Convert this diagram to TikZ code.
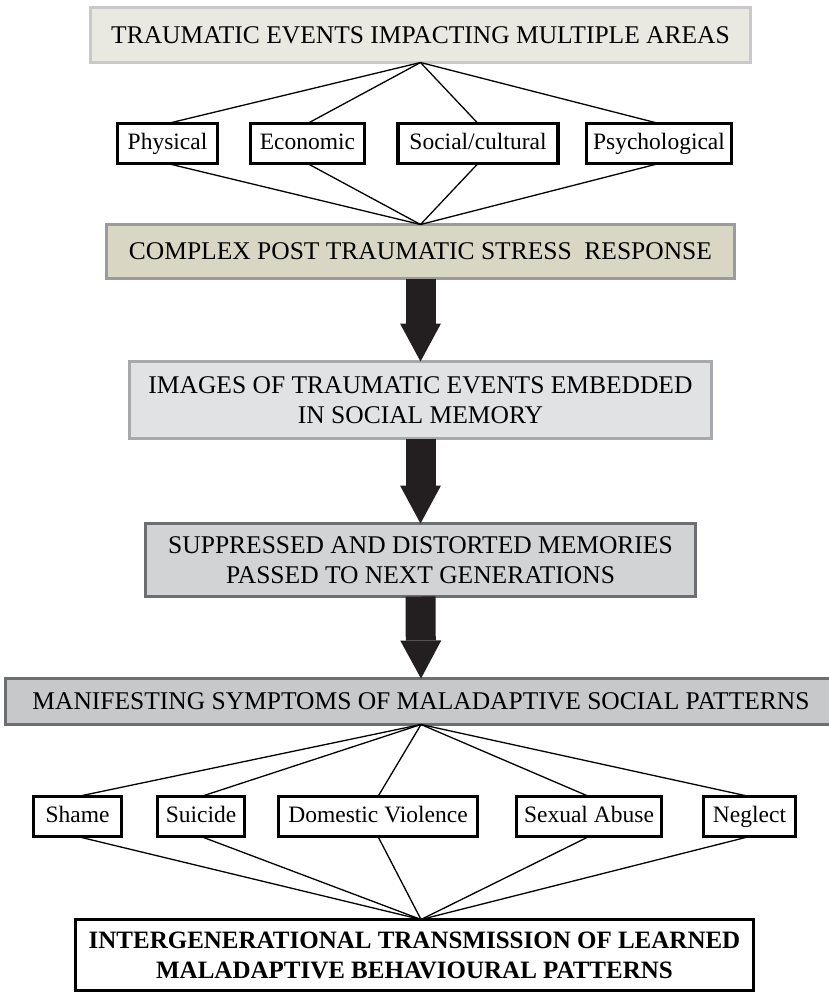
\documentclass[tikz,border=0pt]{standalone}
\usepackage{fontspec}
\setmainfont{Liberation Serif}
\usetikzlibrary{arrows.meta,calc}

\definecolor{topfill}{RGB}{233,233,225}
\definecolor{topline}{RGB}{201,201,201}
\definecolor{beige}{RGB}{217,215,196}
\definecolor{beigeline}{RGB}{155,155,155}
\definecolor{lightfill}{RGB}{225,226,228}
\definecolor{lightline}{RGB}{167,169,172}
\definecolor{midfill}{RGB}{209,211,212}
\definecolor{midline}{RGB}{109,110,113}
\definecolor{darkfill}{RGB}{199,200,202}
\definecolor{arrowc}{RGB}{35,31,32}

\begin{document}
\begin{tikzpicture}[x=1pt,y=-1pt,line width=1.3pt]
  \tikzset{every node/.style={inner sep=0pt,outer sep=0pt,align=center},
    head/.style={draw=#1,line width=3pt,font=\fontsize{25.5}{30}\selectfont},
    leaf/.style={draw=black,fill=white,line width=3.2pt,minimum height=40pt,
      text height=16pt,text depth=5pt,font=\fontsize{23.5}{26}\selectfont},
    bigarrow/.style={draw=arrowc,line width=30pt,
      -{Triangle[width=41pt,length=38pt,line width=0pt]}}}
  \useasboundingbox (0,0) rectangle (829,993);

  \node[head=topline,fill=topfill,minimum width=660pt,minimum height=55pt] (top) at (420.5,35) {TRAUMATIC EVENTS IMPACTING MULTIPLE AREAS};
  \node[leaf,minimum width=100pt] (phys) at (167.5,143.5) {Physical};
  \node[leaf,minimum width=114pt] (econ) at (307.5,143.5) {Economic};
  \node[leaf,minimum width=160pt] (soc)  at (478,143.5)   {Social/cultural};
  \node[leaf,minimum width=145pt] (psy)  at (659,143.5)   {Psychological};
  \node[head=beigeline,fill=beige,minimum width=628pt,minimum height=54pt] (cptsr) at (420.5,251.5) {COMPLEX POST TRAUMATIC STRESS\ \ RESPONSE};
  \node[head=lightline,fill=lightfill,minimum width=582pt,minimum height=77pt] (img) at (420.5,400) {IMAGES OF TRAUMATIC EVENTS EMBEDDED\\IN SOCIAL MEMORY};
  \node[head=midline,fill=midfill,minimum width=550pt,minimum height=73pt] (supp) at (420.5,560) {SUPPRESSED AND DISTORTED MEMORIES\\PASSED TO NEXT GENERATIONS};
  \node[head=midline,fill=darkfill,minimum width=832pt,minimum height=46pt] (mani) at (421,701.5) {MANIFESTING SYMPTOMS OF MALADAPTIVE SOCIAL PATTERNS};
  \node[leaf,minimum width=88pt]  (shame) at (77.5,816.5)  {Shame};
  \node[leaf,minimum width=87pt]  (suic)  at (201,816.5)   {Suicide};
  \node[leaf,minimum width=199pt] (dv)    at (378,816.5)   {Domestic Violence};
  \node[leaf,minimum width=145pt] (sex)   at (589,816.5)   {Sexual Abuse};
  \node[leaf,minimum width=92pt]  (negl)  at (749.5,816.5) {Neglect};
  \node[draw=black,fill=white,line width=3.2pt,minimum width=678pt,minimum height=71pt,
    font=\fontsize{25}{30}\selectfont\bfseries] (igt) at (414.5,955) {INTERGENERATIONAL TRANSMISSION OF LEARNED\\MALADAPTIVE BEHAVIOURAL PATTERNS};
  \coordinate (apex) at ($(igt.north)+(6.5,0)$);

  \path (top.south) edge (phys.north) edge (econ.north) edge (soc.north) edge (psy.north);
  \path (cptsr.north) edge (phys.south) edge (econ.south) edge (soc.south) edge (psy.south);
  \draw[bigarrow] (cptsr.south) -- (img.north);
  \draw[bigarrow] (img.south) -- (supp.north);
  \draw[bigarrow] (supp.south) -- (mani.north);
  \path (mani.south) edge (shame.north) edge (suic.north) edge (dv.north) edge (sex.north) edge (negl.north);
  \path (apex) edge (shame.south) edge (suic.south) edge (dv.south) edge (sex.south) edge (negl.south);
\end{tikzpicture}
\end{document}
